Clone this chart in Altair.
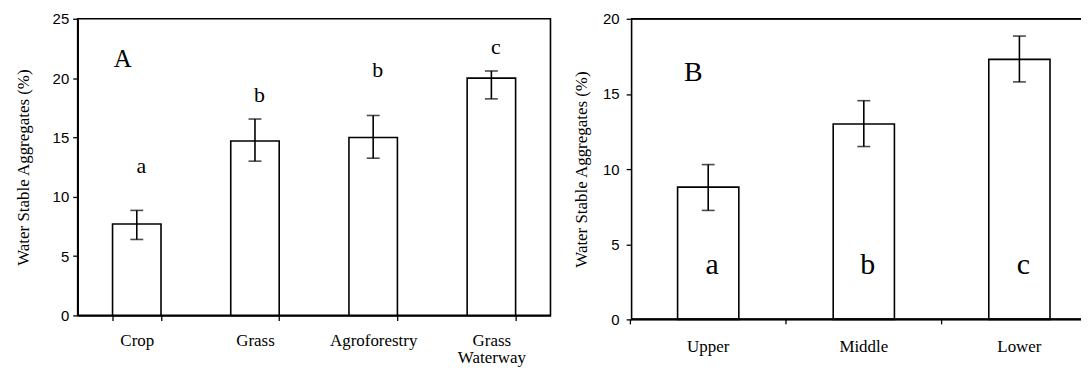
import altair as alt
import pandas as pd

# ---------------- Panel A : land use ----------------
cats_a = ["Crop", "Grass", "Agroforestry", "Grass Waterway"]
mean_a = [7.7, 14.7, 15.0, 20.0]
low_a = [6.4, 13.0, 13.25, 18.25]
high_a = [8.85, 16.55, 16.85, 20.6]
sig_a = ["a", "b", "b", "c"]
sig_y_a = [12.6, 18.6, 20.7, 22.6]
tag_a = "A"
tag_y_a = 21.6
ticks_a = [0, 5, 10, 15, 20, 25]

# ---------------- Panel B : landscape position ----------------
cats_b = ["Upper", "Middle", "Lower"]
mean_b = [8.8, 13.0, 17.3]
low_b = [7.25, 11.5, 15.8]
high_b = [10.3, 14.55, 18.85]
sig_b = ["a", "b", "c"]
sig_y_b = [3.6, 3.6, 3.6]
tag_b = "B"
tag_y_b = 16.4
ticks_b = [0, 5, 10, 15, 20]

Y_TITLE = "Water Stable Aggregates (%)"
SERIF = "Liberation Serif"
SANS = "Liberation Sans"
LW = 1.6


def panel(cats, mean, low, high, sig, sig_y, tag, tag_y, ticks, width, height,
          pad_inner, sig_size, sig_dx, tag_size, tag_dx, title_pad, label_pad,
          open_right=False, pad_outer=None, align=0.5):
    df = pd.DataFrame(dict(cat=cats, mean=mean, low=low, high=high, sig=sig, sig_y=sig_y))
    tag_df = pd.DataFrame(dict(cat=[cats[0]], y=[tag_y], t=[tag]))
    if pad_outer is None:
        pad_outer = pad_inner / 2
    xs = alt.Scale(domain=cats, paddingInner=pad_inner, paddingOuter=pad_outer, align=align)
    step = width / (len(cats) - pad_inner + 2 * pad_outer)
    if not open_right:
        x_axis = alt.Axis(title=None, labelAngle=0, labelFont=SERIF, labelFontSize=17,
                          labelPadding=12, labelExpr="split(datum.label, ' ')",
                          labelLineHeight=17, tickBand="extent", tickSize=5)
    else:
        x_axis = alt.Axis(title=None, labelAngle=0, labelFont=SERIF, labelFontSize=17,
                          labelPadding=19, labelExpr="split(datum.label, ' ')",
                          labelLineHeight=17, ticks=False, domain=False)
    ys = alt.Scale(domain=[ticks[0], ticks[-1]], nice=False, zero=True)
    y_axis = alt.Axis(title=Y_TITLE, values=ticks, titleFont=SERIF, titleFontSize=17,
                      titleFontWeight="normal", titlePadding=title_pad, labelFont=SANS,
                      labelFontSize=15, labelPadding=label_pad, tickSize=5)

    def X(**kw):
        return alt.X("cat:N", scale=xs, axis=x_axis, title=None, **kw)

    def Y(field):
        return alt.Y(field, scale=ys, axis=y_axis, title=Y_TITLE)

    base = alt.Chart(df)
    bars = base.mark_bar(fill="white", stroke="black", strokeWidth=LW).encode(
        x=X(), y=Y("mean:Q")
    )
    err = base.mark_rule(color="black", strokeWidth=LW).encode(
        x=X(), y=Y("low:Q"), y2="high:Q"
    )
    cap_lo = base.mark_tick(color="black", size=13, thickness=LW).encode(
        x=X(), y=Y("low:Q")
    )
    cap_hi = base.mark_tick(color="black", size=13, thickness=LW).encode(
        x=X(), y=Y("high:Q")
    )
    letters = base.mark_text(font=SERIF, fontSize=sig_size, dx=sig_dx, baseline="middle",
                             color="black").encode(
        x=X(), y=Y("sig_y:Q"), text="sig:N"
    )
    tag_mark = alt.Chart(tag_df).mark_text(font=SERIF, fontSize=tag_size, dx=tag_dx,
                                           baseline="middle", color="black").encode(
        x=X(), y=Y("y:Q"), text="t:N"
    )
    layers = [bars, err, cap_lo, cap_hi, letters, tag_mark]
    if not open_right:
        view = alt.ViewBackground(stroke="black", strokeWidth=LW)
    else:
        # the frame runs on past the right edge of the picture: no right side
        view = alt.ViewBackground(stroke="transparent")
        layers.append(base.mark_rule(color="black", strokeWidth=1.3,
                                     xOffset=-pad_inner * step / 2).encode(
            x=X(bandPosition=0), y=alt.value(height), y2=alt.value(height + 5)))
        layers.append(base.mark_rule(color="black", strokeWidth=LW).encode(
            x=alt.value(0), x2=alt.value(width), y=alt.value(0)))
        layers.append(base.mark_rule(color="black", strokeWidth=LW).encode(
            x=alt.value(0), x2=alt.value(width), y=alt.value(height)))
    return alt.layer(*layers).properties(width=width, height=height, view=view)


chart_a = panel(cats_a, mean_a, low_a, high_a, sig_a, sig_y_a, tag_a, tag_y_a, ticks_a,
                width=475, height=298, pad_inner=0.59, sig_size=22, sig_dx=4.5,
                tag_size=25, tag_dx=-14, title_pad=20, label_pad=4)
chart_b = panel(cats_b, mean_b, low_b, high_b, sig_b, sig_y_b, tag_b, tag_y_b, ticks_b,
                width=452, height=302, pad_inner=0.6065, sig_size=30, sig_dx=4,
                tag_size=28, tag_dx=-15, title_pad=12, label_pad=7,
                open_right=True, pad_outer=0.249, align=0.6)

chart = alt.hconcat(chart_a, chart_b, spacing=20).properties(
    padding={"left": 5, "top": 2, "right": 0, "bottom": 0}, background="white"
).configure_axis(
    domainColor="black", domainWidth=LW, tickColor="black", tickWidth=1.3,
    labelColor="black", titleColor="black", grid=False
)

chart.save("out.html", embed_options={"renderer": "svg", "actions": False})
